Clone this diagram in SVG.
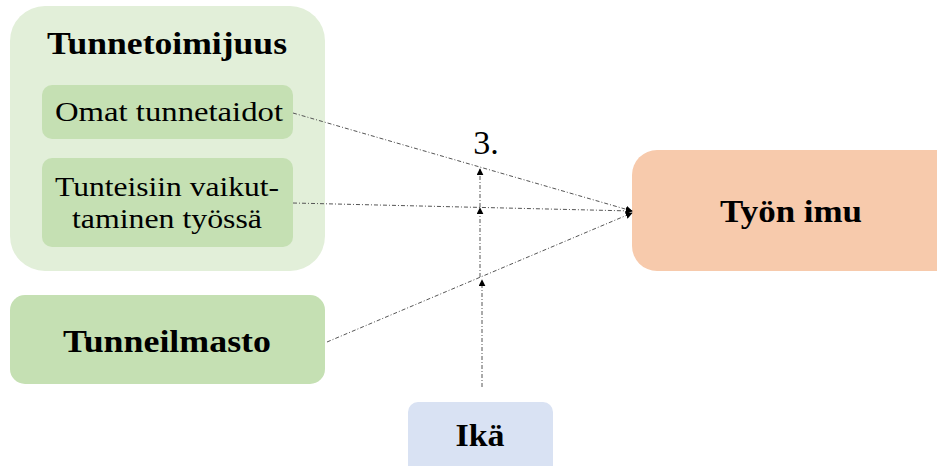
<svg xmlns="http://www.w3.org/2000/svg" width="937" height="466" viewBox="0 0 937 466">
<style>
text{font-family:"Liberation Serif","DejaVu Serif",serif;fill:#000;text-anchor:middle}
.b{font-weight:bold;font-size:32px}
.r{font-size:28px}
.ln{stroke:#555;stroke-width:1;stroke-dasharray:4 2 1 2;fill:none}
</style>
<defs>
<marker id="ah" viewBox="0 0 10 10" refX="9" refY="5" markerWidth="7" markerHeight="7" markerUnits="userSpaceOnUse" orient="auto">
<path d="M0,0 L10,5 L0,10 z" fill="#000"/>
</marker>
</defs>
<rect width="937" height="466" fill="#fff"/>
<g id="tunnetoimijuus">
<rect x="10" y="6" width="315" height="265" rx="35" fill="#e2efd9"/>
<text class="b" x="167" y="54" textLength="240" lengthAdjust="spacingAndGlyphs">Tunnetoimijuus</text>
</g>
<g id="omat">
<rect x="42" y="85" width="251" height="54" rx="10" fill="#c5e0b3"/>
<text class="r" x="169" y="121" textLength="228" lengthAdjust="spacingAndGlyphs">Omat tunnetaidot</text>
</g>
<g id="tunteisiin">
<rect x="42" y="158" width="251" height="89" rx="10" fill="#c5e0b3"/>
<text class="r" x="167" y="196" textLength="224" lengthAdjust="spacingAndGlyphs">Tunteisiin vaikut-</text>
<text class="r" x="167" y="228" textLength="190" lengthAdjust="spacingAndGlyphs">taminen työssä</text>
</g>
<g id="tunneilmasto">
<rect x="10" y="295" width="315" height="89" rx="15" fill="#c5e0b3"/>
<text class="b" x="167" y="352" textLength="208" lengthAdjust="spacingAndGlyphs">Tunneilmasto</text>
</g>
<g id="tyonimu">
<rect x="632" y="150" width="330" height="121" rx="25" fill="#f7caac"/>
<text class="b" x="791" y="222" textLength="142" lengthAdjust="spacingAndGlyphs">Työn imu</text>
</g>
<g id="ika">
<rect x="408" y="402" width="145" height="80" rx="10" fill="#d9e2f3"/>
<text class="b" x="480" y="446" textLength="49" lengthAdjust="spacingAndGlyphs">Ikä</text>
</g>
<g id="label3">
<text x="486" y="154" style="font-size:34px">3.</text>
</g>
<g id="connectors">
<line class="ln" x1="293" y1="113" x2="632" y2="211" marker-end="url(#ah)"/>
<line class="ln" x1="293" y1="203" x2="632" y2="211" marker-end="url(#ah)"/>
<line class="ln" x1="327" y1="342" x2="632" y2="213" marker-end="url(#ah)"/>
<line class="ln" x1="482" y1="387" x2="482" y2="280" marker-end="url(#ah)"/>
<line class="ln" x1="480" y1="277" x2="480" y2="208" marker-end="url(#ah)"/>
<line class="ln" x1="480" y1="207" x2="480" y2="169" marker-end="url(#ah)"/>
</g>
</svg>
